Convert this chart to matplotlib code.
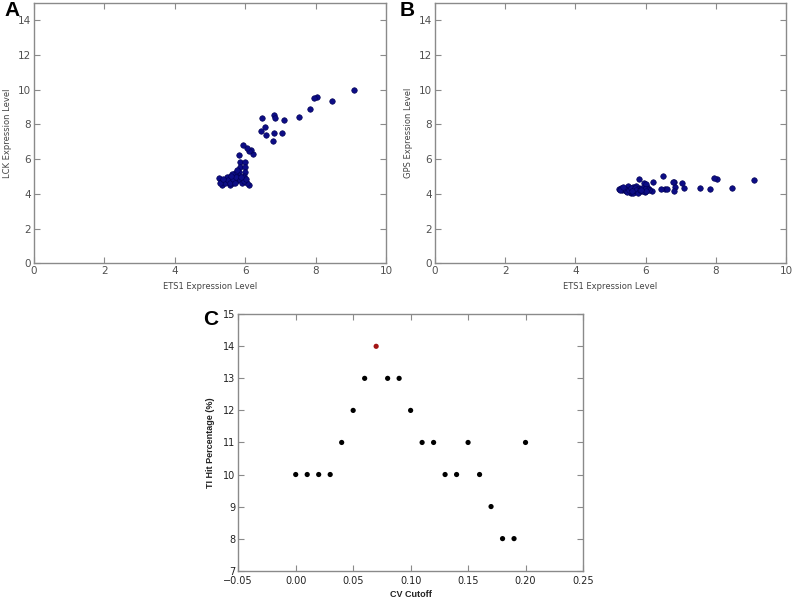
import matplotlib
matplotlib.use("Agg")
import matplotlib.pyplot as plt

# shared ETS1 expression for panels A and B
ets1 = [9.08, 8.46, 8.04, 7.94, 7.83, 7.54, 7.09, 7.04, 6.82, 6.84, 6.81, 6.79,
        6.49, 6.55, 6.60, 6.44, 6.21, 6.17, 6.10, 6.05, 5.95, 5.81,
        5.86, 6.00, 5.84, 6.00, 5.83, 5.98, 5.80, 5.96, 5.25, 5.34, 5.58, 6.10,
        6.05, 5.30, 5.40, 5.45, 5.50, 5.55, 5.60, 5.62, 5.65, 5.68, 5.70, 5.72,
        5.75, 5.78, 5.42, 5.48, 5.52, 5.57, 5.63, 5.66, 5.71, 5.74, 5.77, 5.85,
        5.90, 5.93, 5.97, 6.02, 5.28, 5.36, 5.60, 5.88]
lck = [10.00, 9.35, 9.56, 9.51, 8.87, 8.43, 8.26, 7.53, 8.55, 8.35, 7.49, 7.03,
       8.37, 7.87, 7.37, 7.62, 6.30, 6.53, 6.49, 6.63, 6.82, 6.24,
       5.85, 5.85, 5.57, 5.57, 5.28, 5.28, 5.10, 5.05, 4.90, 4.51, 4.51, 4.51,
       4.61, 4.70, 4.75, 4.85, 4.70, 4.95, 4.80, 5.00, 4.65, 5.10, 4.90, 5.20,
       4.75, 4.95, 4.60, 4.95, 4.80, 4.60, 5.15, 4.85, 4.60, 5.00, 5.35, 4.80,
       4.65, 4.95, 4.75, 4.85, 4.60, 4.85, 5.05, 5.00]
gps = [4.78, 4.32, 4.86, 4.94, 4.28, 4.36, 4.36, 4.63, 4.71, 4.42, 4.17, 4.71,
       5.03, 4.26, 4.26, 4.30, 4.71, 4.17, 4.30, 4.42, 4.61, 4.84,
       4.15, 4.25, 4.30, 4.55, 4.20, 4.10, 4.35, 4.20, 4.30, 4.25, 4.05, 4.20,
       4.30, 4.35, 4.20, 4.15, 4.45, 4.10, 4.30, 4.20, 4.40, 4.10, 4.25, 4.45,
       4.15, 4.30, 4.30, 4.10, 4.25, 4.35, 4.05, 4.25, 4.35, 4.20, 4.05, 4.25,
       4.35, 4.15, 4.30, 4.15, 4.25, 4.40, 4.15, 4.20]

cv_cutoff = [0.00, 0.01, 0.02, 0.03, 0.04, 0.05, 0.06, 0.07, 0.08, 0.09, 0.10,
             0.11, 0.12, 0.13, 0.14, 0.15, 0.16, 0.17, 0.18, 0.19, 0.20]
ti_hit = [10, 10, 10, 10, 11, 12, 13, 14, 13, 13, 12, 11, 11, 10, 10, 11, 10, 9, 8, 8, 11]
best_idx = 7

SPINE = "#8a8a8a"
DOT = "#0d0d85"
LETTER_FONT = "Liberation Sans"


def style_axes(ax, tick_color, tick_size):
    for s in ax.spines.values():
        s.set_color(SPINE)
        s.set_linewidth(1.0)
    ax.tick_params(direction="in", top=True, right=True, length=4, width=0.8,
                   color=SPINE, labelsize=tick_size, labelcolor=tick_color, pad=2)


fig = plt.figure(figsize=(7.95, 5.98), dpi=100)

ax_a = fig.add_axes([0.0428, 0.5597, 0.4428, 0.4353])
ax_b = fig.add_axes([0.5472, 0.5597, 0.4415, 0.4353])
ax_c = fig.add_axes([0.2997, 0.0457, 0.4336, 0.4288])

for ax, yvals, ylab in [(ax_a, lck, "LCK Expression Level"), (ax_b, gps, "GPS Expression Level")]:
    ax.scatter(ets1, yvals, s=16, facecolor=DOT, edgecolor="#000050", linewidth=0.4, zorder=3)
    ax.set_xlim(0, 10)
    ax.set_ylim(0, 15)
    ax.set_xticks([0, 2, 4, 6, 8, 10])
    ax.set_yticks([0, 2, 4, 6, 8, 10, 12, 14])
    style_axes(ax, "#505050", 7.5)
    ax.set_xlabel("ETS1 Expression Level", fontsize=6, color="#444444", labelpad=4)
    ax.set_ylabel(ylab, fontsize=6, color="#444444", labelpad=4)

colors = ["#a31515" if i == best_idx else "black" for i in range(len(cv_cutoff))]
ax_c.scatter(cv_cutoff, ti_hit, s=14, c=colors, edgecolor="none", zorder=3)
ax_c.set_xlim(-0.05, 0.25)
ax_c.set_ylim(7, 15)
ax_c.set_xticks([-0.05, 0.00, 0.05, 0.10, 0.15, 0.20, 0.25])
ax_c.set_xticklabels(["\u22120.05", "0.00", "0.05", "0.10", "0.15", "0.20", "0.25"])
ax_c.set_yticks(range(7, 16))
style_axes(ax_c, "#222222", 7)
ax_c.tick_params(axis="x", pad=4)
ax_c.set_xlabel("CV Cutoff", fontsize=6.5, fontweight="bold", family=LETTER_FONT,
                color="#222222", labelpad=3)
ax_c.set_ylabel("TI Hit Percentage (%)", fontsize=6.5, fontweight="bold", family=LETTER_FONT,
                color="#222222", labelpad=6)

fig.text(0.006, 0.998, "A", fontsize=15, fontweight="bold", family=LETTER_FONT, va="top")
fig.text(0.503, 0.998, "B", fontsize=15, fontweight="bold", family=LETTER_FONT, va="top")
fig.text(0.255, 0.482, "C", fontsize=15, fontweight="bold", family=LETTER_FONT, va="top")

fig.savefig("out.png", dpi=100)
